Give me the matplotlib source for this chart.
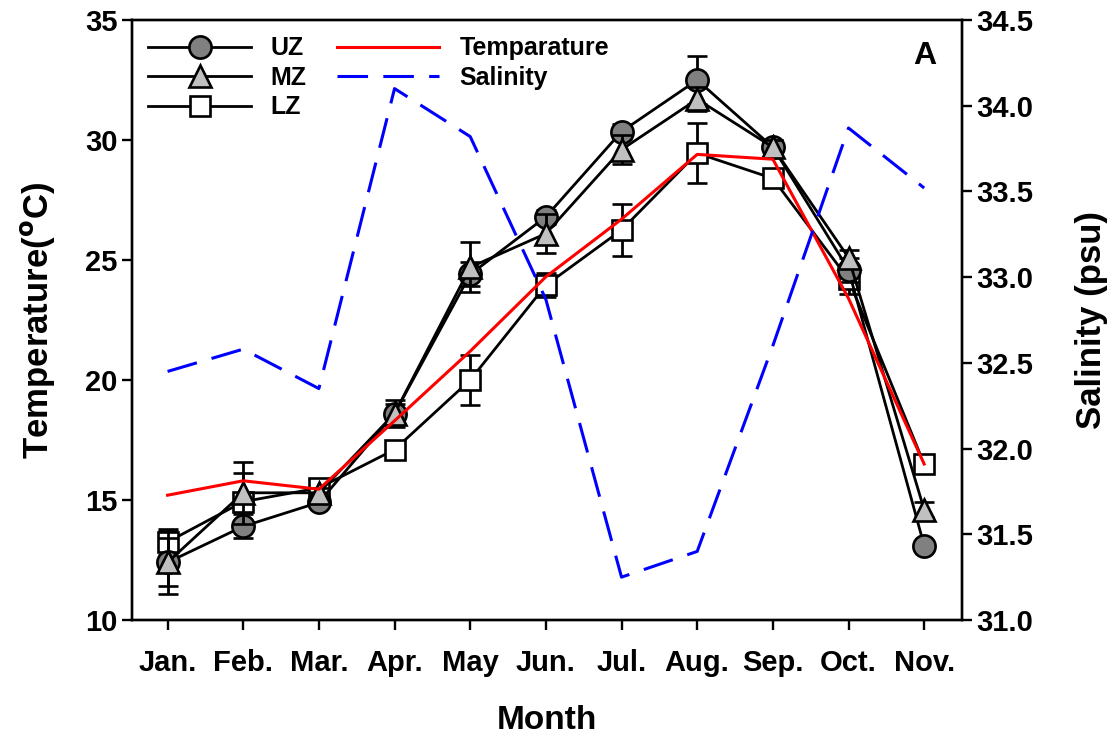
import matplotlib
matplotlib.use("Agg")
import matplotlib.pyplot as plt
from matplotlib.lines import Line2D

months = ["Jan.", "Feb.", "Mar.", "Apr.", "May", "Jun.", "Jul.", "Aug.", "Sep.", "Oct.", "Nov."]
uz = [12.4, 13.9, 14.9, 18.6, 24.4, 26.8, 30.35, 32.5, 29.7, 24.6, 13.1]
uz_err = [1.3, 0.5, 0.2, 0.4, 0.5, 0.3, 0.3, 1.0, 0.3, 0.5, 0.2]
mz = [12.4, 15.3, 15.3, 18.6, 24.7, 26.1, 29.6, 31.7, 29.7, 25.1, 14.6]
mz_err = [1.0, 1.3, 0.2, 0.55, 1.05, 0.8, 0.6, 0.5, 0.3, 0.3, 0.3]
lz = [13.25, 14.93, 15.5, 17.1, 20.0, 23.95, 26.25, 29.45, 28.4, 24.2, 16.5]
lz_err = [0.55, 1.2, 0.2, 0.3, 1.06, 0.5, 1.1, 1.25, 0.3, 0.6, 0.3]
temperature = [15.2, 15.8, 15.45, 18.3, 21.2, 24.3, 26.7, 29.4, 29.2, 23.4, 16.5]
salinity = [32.45, 32.58, 32.35, 34.10, 33.82, 32.87, 31.25, 31.40, 32.60, 33.87, 33.52]
temp_ticks = [10, 15, 20, 25, 30, 35]
sal_ticks = [31.0, 31.5, 32.0, 32.5, 33.0, 33.5, 34.0, 34.5]

plt.rcParams['font.family'] = ['Liberation Sans', 'DejaVu Sans']
plt.rcParams['font.weight'] = 'bold'
plt.rcParams['mathtext.default'] = 'bf'

fig = plt.figure(figsize=(11.07, 7.35), dpi=100)
ax = fig.add_axes([132/1107, 1-620/735, (962-132)/1107, 600/735])
ax2 = ax.twinx()

x = list(range(1, len(months) + 1))

common = dict(color='black', lw=2.0, ecolor='black', elinewidth=2.0,
              capsize=7, capthick=2.0, markeredgecolor='black', markeredgewidth=1.9)
ax.errorbar(x, lz, yerr=lz_err, marker='s', markersize=15, markerfacecolor='white', zorder=3, **common)
ax.errorbar(x, uz, yerr=uz_err, marker='o', markersize=16, markerfacecolor='#808080', zorder=4, **common)
ax.errorbar(x, mz, yerr=mz_err, marker='^', markersize=16, markerfacecolor='#c0c0c0', zorder=5, **common)
ax.plot(x, temperature, color='red', lw=2.2, zorder=6)

ax2.plot(x, salinity, color='blue', lw=2.2, dashes=(10, 5))

ax.set_xlim(0.53, 11.5)
ax.set_ylim(10, 35)
ax2.set_ylim(31.0, 34.5)
ax.set_xticks(x)
ax.set_xticklabels(months)
ax.set_yticks(temp_ticks)
ax2.set_yticks(sal_ticks)
ax2.set_yticklabels([f"{v:.1f}" for v in sal_ticks])

for a in (ax, ax2):
    for s in a.spines.values():
        s.set_linewidth(1.7)
    a.tick_params(direction='out', length=7, width=1.7, labelsize=21)
    for lab in a.get_xticklabels() + a.get_yticklabels():
        lab.set_fontweight('bold')
ax.tick_params(axis='x', pad=14)

ax.set_xlabel("Month", fontsize=24, fontweight='bold', labelpad=20)
ax.set_ylabel(r"Temperature($^{\rm o}$C)", fontsize=25, fontweight='bold', labelpad=20)
ax2.set_ylabel("Salinity (psu)", fontsize=25, fontweight='bold', labelpad=30)

ax.text(0.955, 0.94, "A", transform=ax.transAxes, fontsize=23, fontweight='bold',
        ha='center', va='center')

handles = [
    Line2D([], [], color='black', lw=2.0, marker='o', markersize=16, markerfacecolor='#808080', markeredgecolor='black', markeredgewidth=1.9),
    Line2D([], [], color='black', lw=2.0, marker='^', markersize=16, markerfacecolor='#c0c0c0', markeredgecolor='black', markeredgewidth=1.9),
    Line2D([], [], color='black', lw=2.0, marker='s', markersize=15, markerfacecolor='white', markeredgecolor='black', markeredgewidth=1.9),
    Line2D([], [], color='red', lw=2.2),
    Line2D([], [], color='blue', lw=2.2, dashes=(10, 5)),
]
labels = ["UZ", "MZ", "LZ", "Temparature", "Salinity"]
leg = ax2.legend(handles, labels, ncol=2, loc='upper left', frameon=False,
                 fontsize=18, handlelength=4.1, handletextpad=0.8, columnspacing=1.2,
                 labelspacing=0.22, borderaxespad=0.25, bbox_to_anchor=(0.0, 1.0))
for t in leg.get_texts():
    t.set_fontweight('bold')

fig.savefig("out.png", dpi=100)
